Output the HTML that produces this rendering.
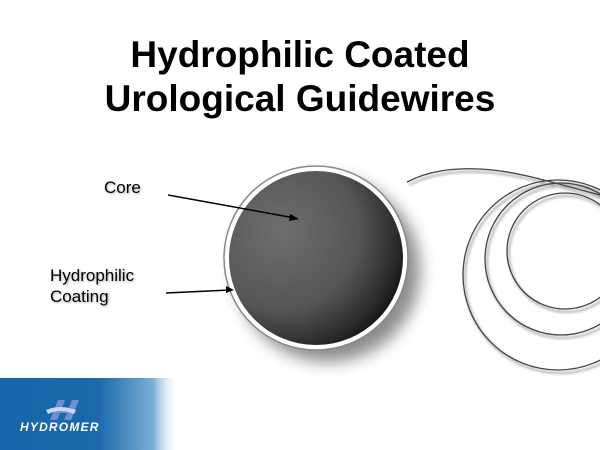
<!DOCTYPE html>
<html><head><style>
body{margin:0;width:600px;height:450px;background:#fff;overflow:hidden;position:relative;font-family:"Liberation Sans",sans-serif}
.t{position:absolute;left:0;width:600px;text-align:center;font-weight:bold;font-size:37px;color:#000;line-height:44px}
</style></head><body>
<div class="t" style="top:33px">Hydrophilic Coated</div>
<div class="t" style="top:77px">Urological Guidewires</div>
<svg width="600" height="450" style="position:absolute;left:0;top:0">
<defs>
<radialGradient id="g" cx="0.3" cy="0.35" r="0.75">
<stop offset="0" stop-color="#6e6e6e"/><stop offset="0.6" stop-color="#555"/><stop offset="0.9" stop-color="#2a2a2a"/><stop offset="1" stop-color="#151515"/>
</radialGradient>
<linearGradient id="b" x1="0" x2="1" y1="0" y2="0">
<stop offset="0" stop-color="#1565a8"/><stop offset="0.55" stop-color="#1a6aab"/><stop offset="0.85" stop-color="#7aaed5"/><stop offset="1" stop-color="#fff" stop-opacity="0"/>
</linearGradient>
<filter id="s"><feGaussianBlur stdDeviation="8"/></filter>
<filter id="s2"><feGaussianBlur stdDeviation="1.2"/></filter>
</defs>
<circle cx="328" cy="270" r="92" fill="#000" opacity="0.45" filter="url(#s)"/>
<circle cx="316" cy="258" r="92" fill="#fff" stroke="#888" stroke-width="1.5"/>
<circle cx="316" cy="258" r="87" fill="url(#g)"/>
<g fill="none" stroke="#aaa" stroke-width="2" filter="url(#s2)" transform="translate(2,3)">
<path d="M407 182 C430 170 455 168 480 169 C520 171 560 185 600 195"/>
<circle cx="565" cy="251" r="58"/><circle cx="561" cy="259" r="76"/><circle cx="558" cy="275" r="95"/>
</g>
<g fill="none" stroke="#444" stroke-width="1.3">
<path d="M407 182 C430 170 455 168 480 169 C520 171 560 185 600 195"/>
<circle cx="565" cy="251" r="58"/><circle cx="561" cy="259" r="76"/><circle cx="558" cy="275" r="95"/>
</g>
<line x1="168" y1="195" x2="295" y2="218" stroke="#000" stroke-width="1.5"/>
<polygon points="299,219 290,214 289,221" fill="#000"/>
<line x1="166" y1="293" x2="230" y2="290" stroke="#000" stroke-width="1.5"/>
<polygon points="234,290 226,286 226,293" fill="#000"/>
<rect x="0" y="378" width="180" height="72" fill="url(#b)"/>
<path d="M58 400 L65 400 L62 408 L69 408 L72 400 L79 400 L71 420 L64 420 L67 413 L60 413 L57 420 L50 420 Z" fill="#6f8fd0"/>
<path d="M46 410 Q60 404 76 410 L74 414 Q60 408 48 414Z" fill="#c8d8f0"/>
<text x="20" y="431" fill="#fff" font-size="12" font-weight="bold" font-style="italic" letter-spacing="1.2">HYDROMER</text>
</svg>
<div style="position:absolute;left:104px;top:178px;font-size:17px;text-shadow:1px 1px 2px #aaa">Core</div>
<div style="position:absolute;left:50px;top:265px;font-size:17px;line-height:21px;text-shadow:1px 1px 2px #aaa">Hydrophilic<br>Coating</div>
</body></html>
